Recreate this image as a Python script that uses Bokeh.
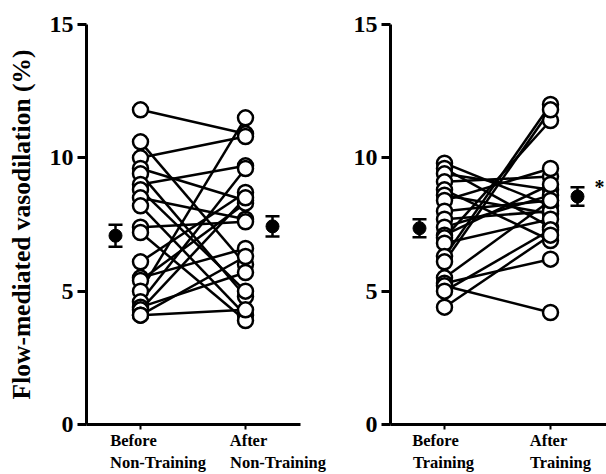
import math
from bokeh.plotting import figure
from bokeh.layouts import row
from bokeh.models import (ColumnDataSource, FixedTicker, Label, Whisker, TeeHead,
                          LinearAxis)
from bokeh.embed import file_html
from bokeh.resources import INLINE

# ---------------- data ----------------
y_ticks = [0, 5, 10, 15]
y_label = "Flow-mediated vasodilation (%)"

nt_line1 = ["Before", "After"]
nt_line2 = ["Non-Training", "Non-Training"]
tr_line1 = ["Before", "After"]
tr_line2 = ["Training", "Training"]

nt_before = [11.8, 10.6, 10.0, 9.6, 9.4, 9.0, 8.8, 8.5, 8.2, 7.4,
             7.2, 6.1, 5.5, 5.4, 5.0, 4.6, 4.4, 4.3, 4.1, 4.1]
nt_after = [10.9, 6.0, 10.8, 8.4, 4.8, 9.7, 5.0, 7.7, 4.1, 7.6,
            3.9, 8.7, 6.6, 8.3, 11.5, 9.6, 5.7, 8.5, 4.3, 6.3]
nt_mean = [7.08, 7.43]
nt_sem = [0.41, 0.38]

tr_before = [9.8, 9.6, 9.4, 9.1, 8.8, 8.6, 8.4, 8.0, 7.7, 7.4,
             7.1, 7.0, 6.8, 6.3, 6.1, 5.5, 5.3, 5.2, 5.0, 4.4]
tr_after = [8.2, 7.4, 8.8, 9.3, 6.9, 7.9, 9.6, 8.4, 8.0, 8.6,
            9.0, 11.4, 7.7, 12.0, 11.8, 8.4, 6.2, 4.2, 7.3, 7.1]
tr_mean = [7.36, 8.55]
tr_sem = [0.34, 0.35]
tr_sig = "*"

FONT = "Liberation Serif"


def label_axis(p, px_per_unit, texts, offsets_px, standoff):
    ticks = [round(i + 1 + off / px_per_unit, 4)
             for i, off in enumerate(offsets_px)]
    ax = LinearAxis(ticker=FixedTicker(ticks=ticks),
                    major_label_overrides={t: s for t, s in zip(ticks, texts)},
                    axis_line_color=None, major_tick_line_color=None,
                    minor_tick_line_color=None, major_tick_out=0,
                    major_tick_in=0, major_label_standoff=standoff,
                    major_label_text_font=FONT,
                    major_label_text_font_style="bold",
                    major_label_text_font_size="16.5px",
                    major_label_text_color="black")
    p.add_layout(ax, "below")


def panel(width, border_left, border_right, px_per_unit, before, after,
          mean, sem, line1, line2, off1, off2, show_ylabel, sig=None):
    x_start = 1 - 54 / px_per_unit
    frame_w = width - border_left - border_right
    x_end = x_start + frame_w / px_per_unit
    p = figure(width=width, height=474, output_backend="svg",
               toolbar_location=None, x_range=(x_start, x_end),
               y_range=(0, 15), min_border_left=border_left,
               min_border_right=border_right, min_border_top=24,
               min_border_bottom=49)
    p.outline_line_color = None
    p.xgrid.visible = False
    p.ygrid.visible = False
    p.background_fill_color = "white"
    p.border_fill_color = "white"

    # y axis
    p.yaxis.ticker = FixedTicker(ticks=y_ticks)
    p.yaxis.axis_line_width = 3
    p.yaxis.major_tick_line_width = 3
    p.yaxis.major_tick_out = 9
    p.yaxis.major_tick_in = 0
    p.yaxis.minor_tick_line_color = None
    p.yaxis.major_label_text_font = FONT
    p.yaxis.major_label_text_font_style = "bold"
    p.yaxis.major_label_text_font_size = "24px"
    p.yaxis.major_label_text_color = "black"
    p.yaxis.major_label_standoff = 4
    if show_ylabel:
        p.yaxis.axis_label = y_label
        p.yaxis.axis_label_text_font = FONT
        p.yaxis.axis_label_text_font_style = "bold"
        p.yaxis.axis_label_text_font_size = "25.5px"
        p.yaxis.axis_label_text_color = "black"
        p.yaxis.axis_label_standoff = 11

    # x axis: tick marks only
    p.xaxis.ticker = FixedTicker(ticks=[1, 2])
    p.xaxis.major_label_overrides = {1: "", 2: ""}
    p.xaxis.axis_line_width = 3
    p.xaxis.major_tick_line_width = 2
    p.xaxis.major_tick_out = 5
    p.xaxis.major_tick_in = 0
    p.xaxis.major_label_standoff = 0
    p.xaxis.minor_tick_line_color = None

    # two rows of category labels
    label_axis(p, px_per_unit, line1, off1, 1)
    label_axis(p, px_per_unit, line2, off2, 0)

    n = len(before)
    p.segment(x0=[1] * n, y0=before, x1=[2] * n, y1=after,
              line_color="black", line_width=2.5)
    p.scatter(x=[1] * n, y=before, size=15, fill_color="white",
              line_color="black", line_width=2.5)
    p.scatter(x=[2] * n, y=after, size=15, fill_color="white",
              line_color="black", line_width=2.5)

    mx = [1 - 25 / px_per_unit, 2 + 27 / px_per_unit]
    src = ColumnDataSource(dict(x=mx, m=mean,
                                lo=[m - s for m, s in zip(mean, sem)],
                                hi=[m + s for m, s in zip(mean, sem)]))
    w = Whisker(source=src, base="x", lower="lo", upper="hi",
                dimension="height", line_color="black", line_width=2.5,
                lower_head=TeeHead(size=14, line_width=2.5, line_color="black"),
                upper_head=TeeHead(size=14, line_width=2.5, line_color="black"))
    p.add_layout(w)
    p.scatter(x="x", y="m", source=src, size=13, fill_color="black",
              line_color="black")

    if sig:
        p.add_layout(Label(x=2 + 49 / px_per_unit, y=8.9, text=sig,
                           text_font=FONT, text_font_style="bold",
                           text_font_size="20px", text_align="center",
                           text_baseline="middle", text_color="black"))
    return p


left = panel(330, 86, 30, 105, nt_before, nt_after, nt_mean, nt_sem,
             nt_line1, nt_line2, [-7, 3], [17.5, 32.5], True)
right = panel(276, 60, 0, 106, tr_before, tr_after, tr_mean, tr_sem,
              tr_line1, tr_line2, [-9, -2], [-1, 10], False, tr_sig)

layout = row(left, right)
open("out.html", "w").write(file_html(layout, INLINE))
